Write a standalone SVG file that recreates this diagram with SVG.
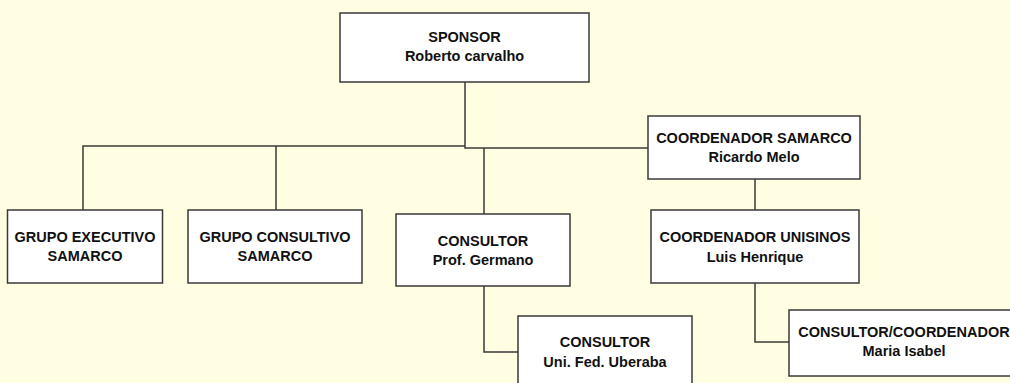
<svg xmlns="http://www.w3.org/2000/svg" width="1010" height="383" viewBox="0 0 1010 383">
<style>
.bg{fill:#FFFDE2}
.box{fill:#FFFFFF;stroke:#3a3a3a;stroke-width:1.5}
.ln{fill:none;stroke:#3a3a3a;stroke-width:1.5}
text{font-family:"Liberation Sans",Arial,sans-serif;font-weight:bold;font-size:14.5px;fill:#111;text-anchor:middle}
</style>
<rect class="bg" x="0" y="0" width="1010" height="383"/>
<g id="connectors">
<path class="ln" d="M465 82 V148 H648"/>
<path class="ln" d="M83 210 V146 H465"/>
<path class="ln" d="M276 146 V210"/>
<path class="ln" d="M484 148 V214"/>
<path class="ln" d="M755 179 V210"/>
<path class="ln" d="M484 286 V352 H518"/>
<path class="ln" d="M755 283 V342 H789"/>
</g>
<g id="sponsor">
<rect class="box" x="340" y="13" width="249" height="69"/>
<text x="464.5" y="42">SPONSOR</text>
<text x="464.5" y="61">Roberto carvalho</text>
</g>
<g id="grupo-executivo">
<rect class="box" x="7.5" y="210" width="155" height="73"/>
<text x="85" y="241.5">GRUPO EXECUTIVO</text>
<text x="85" y="260.5">SAMARCO</text>
</g>
<g id="grupo-consultivo">
<rect class="box" x="188" y="210" width="174" height="73"/>
<text x="275" y="241.5">GRUPO CONSULTIVO</text>
<text x="275" y="260.5">SAMARCO</text>
</g>
<g id="consultor-germano">
<rect class="box" x="396" y="214" width="174" height="72"/>
<text x="483" y="245.5">CONSULTOR</text>
<text x="483" y="265">Prof. Germano</text>
</g>
<g id="coordenador-samarco">
<rect class="box" x="648" y="116" width="212" height="63"/>
<text x="754" y="142.5">COORDENADOR SAMARCO</text>
<text x="754" y="162">Ricardo Melo</text>
</g>
<g id="coordenador-unisinos">
<rect class="box" x="651" y="210" width="208" height="73"/>
<text x="755" y="242">COORDENADOR UNISINOS</text>
<text x="755" y="261.5">Luis Henrique</text>
</g>
<g id="consultor-uberaba">
<rect class="box" x="518" y="316" width="174" height="80"/>
<text x="605" y="346.5">CONSULTOR</text>
<text x="605" y="366.5">Uni. Fed. Uberaba</text>
</g>
<g id="consultor-coordenador">
<rect class="box" x="789" y="310" width="230" height="66"/>
<text x="904" y="336.5">CONSULTOR/COORDENADOR</text>
<text x="904" y="356">Maria Isabel</text>
</g>
</svg>
